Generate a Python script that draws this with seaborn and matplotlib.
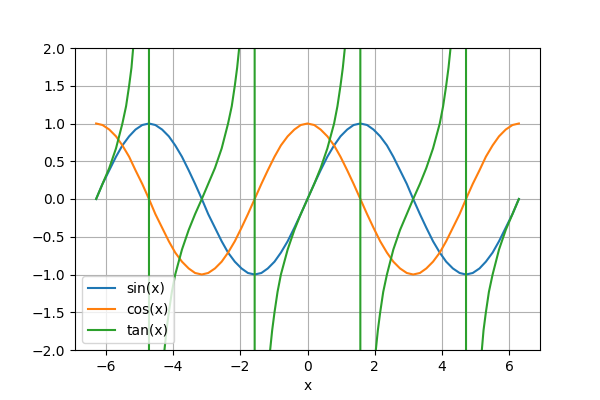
import matplotlib
matplotlib.use("Agg")
import matplotlib.pyplot as plt
import seaborn as sns

# values
x_vals = [-6.28, -6.09, -5.89, -5.69, -5.5, -5.3, -5.11, -4.91, -4.71, -4.52, -4.32,
          -4.12, -3.93, -3.73, -3.53, -3.34, -3.14, -2.95, -2.75, -2.55, -2.36, -2.16,
          -1.96, -1.77, -1.57, -1.37, -1.18, -0.98, -0.79, -0.59, -0.39, -0.2, 0,
          0.2, 0.39, 0.59, 0.79, 0.98, 1.18, 1.37, 1.57, 1.77, 1.96, 2.16, 2.36,
          2.55, 2.75, 2.95, 3.14, 3.34, 3.53, 3.73, 3.93, 4.12, 4.32, 4.52, 4.71,
          4.91, 5.11, 5.3, 5.5, 5.69, 5.89, 6.09, 6.28]

sin_vals = [0, .2, .38, .56, .71, .83, .92, .98, 1, .98, .92, .83, .71, .56, .38, .2,
            0, -.2, -.38, -.56, -.71, -.83, -.92, -.98, -1, -.98, -.92, -.83, -.71, -.56, -.38, -.2,
            0, .2, .38, .56, .71, .83, .92, .98, 1, .98, .92, .83, .71, .56, .38, .2,
            0, -.2, -.38, -.56, -.71, -.83, -.92, -.98, -1, -.98, -.92, -.83, -.71, -.56, -.38, -.2,
            0]

cos_vals = [1, .98, .92, .83, .71, .56, .38, .2, 0, -.2, -.38, -.56, -.71, -.83, -.92, -.98,
            -1, -.98, -.92, -.83, -.71, -.56, -.38, -.2, 0, .2, .38, .56, .71, .83, .92, .98,
            1, .98, .92, .83, .71, .56, .38, .2, 0, -.2, -.38, -.56, -.71, -.83, -.92, -.98,
            -1, -.98, -.92, -.83, -.71, -.56, -.38, -.2, 0, .2, .38, .56, .71, .83, .92, .98,
            1]

# tan has its own x samples (extra points on the steep parts and around the jumps)
x_tan = [-6.28, -6.09, -5.89, -5.69, -5.5, -5.39, -5.3, -5.23, -5.18, -5.11, -4.91, -4.72,
         -4.70, -4.52, -4.32, -4.25, -4.19, -4.12, -4.03, -3.93, -3.73, -3.53, -3.34, -3.14,
         -2.95, -2.75, -2.55, -2.36, -2.25, -2.16, -2.09, -2.03, -1.96, -1.77, -1.58,
         -1.56, -1.37, -1.18, -1.11, -1.05, -0.98, -0.89, -0.79, -0.59, -0.39, -0.2, 0,
         0.2, 0.39, 0.59, 0.79, 0.89, 0.98, 1.05, 1.11, 1.18, 1.37, 1.56,
         1.58, 1.77, 1.96, 2.03, 2.09, 2.16, 2.25, 2.36, 2.55, 2.75, 2.95, 3.14,
         3.34, 3.53, 3.73, 3.93, 4.03, 4.12, 4.19, 4.25, 4.32, 4.52, 4.70,
         4.72, 4.91, 5.11, 5.18, 5.23, 5.3, 5.39, 5.5, 5.69, 5.89, 6.09, 6.28]

tan_vals = [0, .2, .41, .67, 1, 1.23, 1.5, 1.74, 2, 2.41, 5.03, 130,
            -130, -5.03, -2.41, -2, -1.74, -1.5, -1.23, -1, -.67, -.41, -.2, 0,
            .2, .41, .67, 1, 1.23, 1.5, 1.74, 2, 2.41, 5.03, 130,
            -130, -5.03, -2.41, -2, -1.74, -1.5, -1.23, -1, -.67, -.41, -.2, 0,
            .2, .41, .67, 1, 1.23, 1.5, 1.74, 2, 2.41, 5.03, 130,
            -130, -5.03, -2.41, -2, -1.74, -1.5, -1.23, -1, -.67, -.41, -.2, 0,
            .2, .41, .67, 1, 1.23, 1.5, 1.74, 2, 2.41, 5.03, 130,
            -130, -5.03, -2.41, -2, -1.74, -1.5, -1.23, -1, -.67, -.41, -.2, 0]

fig, ax = plt.subplots(figsize=(6, 4), dpi=100)
fig.subplots_adjust(bottom=0.125)

sns.lineplot(x=x_vals, y=sin_vals, label="sin(x)", color="#1f77b4", ax=ax)
sns.lineplot(x=x_vals, y=cos_vals, label="cos(x)", color="#ff7f0e", ax=ax)
sns.lineplot(x=x_tan, y=tan_vals, label="tan(x)", color="#2ca02c", ax=ax)

ax.set_ylim(-2, 2)
ax.set_xlabel("x")
ax.grid(True)
ax.legend(loc="lower left")

plt.savefig("out.png")
